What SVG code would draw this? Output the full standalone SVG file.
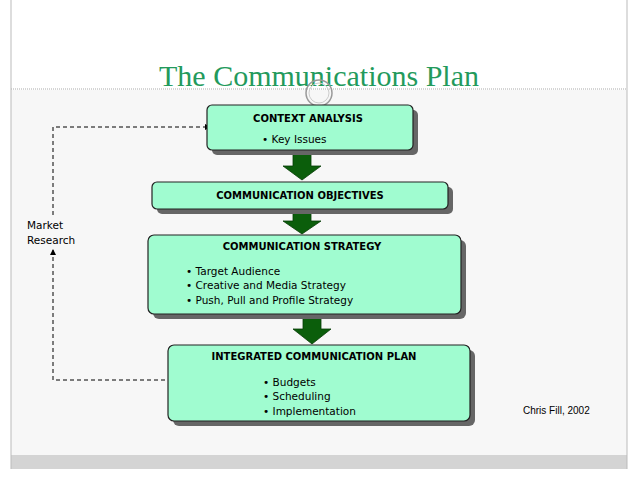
<svg xmlns="http://www.w3.org/2000/svg" width="638" height="479" viewBox="0 0 638 479">
<style>
.box{fill:#a0fcd0;stroke:#222;stroke-width:1.2}
.sh{fill:#666}
.t{font-family:"DejaVu Sans",sans-serif;font-size:10.5px;fill:#000}
.b{font-weight:bold;font-size:10px}
.arr{fill:#0b5e0b;stroke:#063c06;stroke-width:0.8}
.d{fill:none;stroke:#000;stroke-width:1;stroke-dasharray:4,3}
</style>
<defs><marker id="m" markerWidth="6" markerHeight="6" refX="5" refY="3" orient="auto"><path d="M0,0L6,3L0,6z" fill="#000"/></marker></defs>
<rect width="638" height="479" fill="#fff"/>
<rect x="11" y="90" width="616" height="365" fill="#f7f7f7"/>
<line x1="11" y1="89" x2="627" y2="89" stroke="#aaa" stroke-dasharray="1,1"/>
<rect x="11" y="455" width="616" height="14" fill="#d4d4d4"/>
<line x1="11" y1="0" x2="11" y2="469" stroke="#bbb"/>
<line x1="627" y1="0" x2="627" y2="469" stroke="#bbb"/>
<text x="319" y="86" text-anchor="middle" font-family="Liberation Serif,serif" font-size="30" fill="#239a5c">The Communications Plan</text>
<circle cx="319" cy="93" r="13" fill="none" stroke="#999" stroke-width="1.5"/>
<circle cx="319" cy="93" r="10" fill="none" stroke="#ccc" stroke-width="1"/>
<g id="connectors">
<polyline class="d" points="53,215 53,127 210,127" marker-end="url(#m)"/>
<polyline class="d" points="165,380 53,380 53,250" marker-end="url(#m)"/>
<path class="arr" d="M293,152h18v14h10l-19,14l-19,-14h10z"/>
<path class="arr" d="M293,210h18v11h10l-19,13l-19,-13h10z"/>
<path class="arr" d="M303,315h18v14h10l-19,15l-19,-15h10z"/>
</g>
<g id="context"><rect class="sh" x="212" y="110" width="206" height="45" rx="5"/><rect class="box" x="207" y="105" width="206" height="45" rx="5"/>
<text class="t b" x="308" y="122" text-anchor="middle">CONTEXT ANALYSIS</text><text class="t" x="262" y="143">• Key Issues</text></g>
<g id="objectives"><rect class="sh" x="157" y="187" width="296" height="27" rx="5"/><rect class="box" x="152" y="182" width="296" height="27" rx="5"/>
<text class="t b" x="300" y="199" text-anchor="middle">COMMUNICATION OBJECTIVES</text></g>
<g id="strategy"><rect class="sh" x="153" y="240" width="313" height="79" rx="6"/><rect class="box" x="148" y="235" width="313" height="79" rx="6"/>
<text class="t b" x="302" y="250" text-anchor="middle">COMMUNICATION STRATEGY</text>
<text class="t" x="186" y="275">• Target Audience</text><text class="t" x="186" y="289">• Creative and Media Strategy</text><text class="t" x="186" y="304">• Push, Pull and Profile Strategy</text></g>
<g id="icp"><rect class="sh" x="173" y="350" width="302" height="76" rx="6"/><rect class="box" x="168" y="345" width="302" height="76" rx="6"/>
<text class="t b" x="314" y="360" text-anchor="middle">INTEGRATED COMMUNICATION PLAN</text>
<text class="t" x="263" y="386">• Budgets</text><text class="t" x="263" y="400">• Scheduling</text><text class="t" x="263" y="415">• Implementation</text></g>
<g id="market"><text class="t" x="27" y="229">Market</text><text class="t" x="27" y="244">Research</text></g>
<text x="523" y="414" font-family="Liberation Sans,sans-serif" font-size="10" fill="#000">Chris Fill, 2002</text>
</svg>
